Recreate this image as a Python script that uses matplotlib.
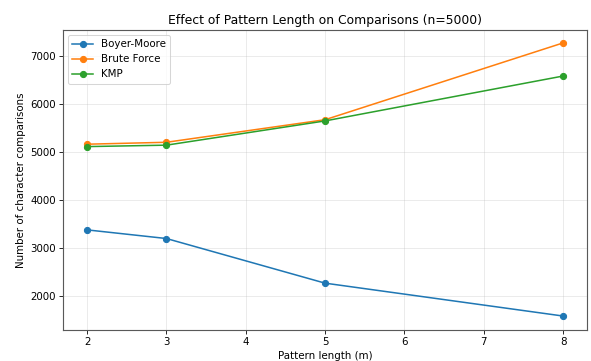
import matplotlib
matplotlib.use("Agg")
import matplotlib.pyplot as plt

# pattern lengths and comparison counts
lengths = [2, 3, 5, 8]
boyer_moore = [3375, 3195, 2265, 1580]
brute_force = [5160, 5200, 5670, 7270]
kmp = [5110, 5140, 5645, 6580]

fig, ax = plt.subplots(figsize=(591 / 74, 361 / 74), dpi=74)
ax.plot(lengths, boyer_moore, marker='o', label='Boyer-Moore')
ax.plot(lengths, brute_force, marker='o', label='Brute Force')
ax.plot(lengths, kmp, marker='o', label='KMP')

ax.set_title("Effect of Pattern Length on Comparisons (n=5000)")
ax.set_xlabel("Pattern length (m)")
ax.set_ylabel("Number of character comparisons")
ax.grid(True, alpha=0.3)
ax.legend(loc='upper left')
ax.set_ylim(1290, 7540)
for s in ax.spines.values():
    s.set_color('0.35')
    s.set_linewidth(1.1)

plt.subplots_adjust(left=0.107, right=0.993, top=0.917, bottom=0.086)
plt.savefig("out.png")
